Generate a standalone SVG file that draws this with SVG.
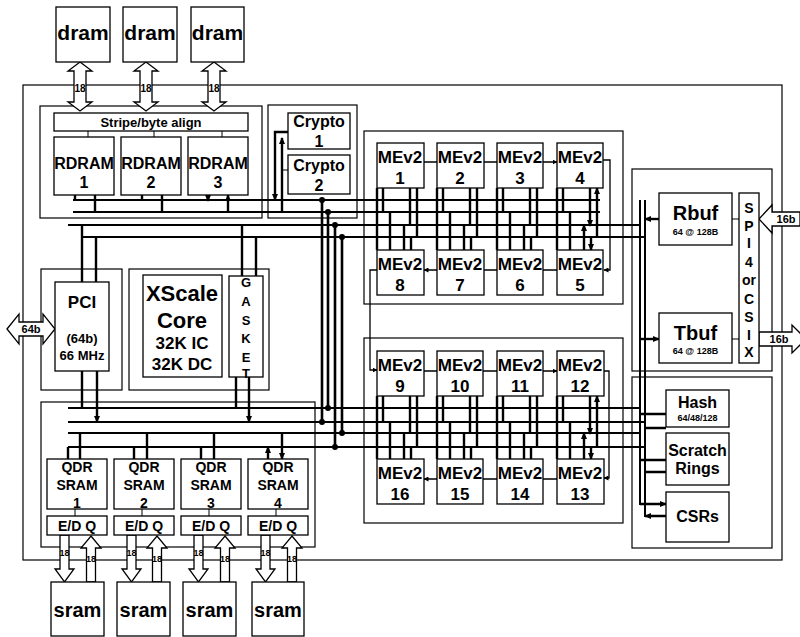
<svg xmlns="http://www.w3.org/2000/svg" width="800" height="637" viewBox="0 0 800 637">
<defs>
<marker id="ah" markerWidth="7" markerHeight="6" refX="6" refY="3" orient="auto" markerUnits="userSpaceOnUse"><path d="M0,0 L7,3 L0,6 z" fill="#000"/></marker>
<marker id="sh" markerWidth="5" markerHeight="5" refX="4.5" refY="2.5" orient="auto" markerUnits="userSpaceOnUse"><path d="M0,0 L5,2.5 L0,5 z" fill="#000"/></marker>
</defs>
<style>
.box{fill:#fff;stroke:#000;stroke-width:1.3}
.grp{fill:none;stroke:#000;stroke-width:1.2}
.bus{stroke:#000;stroke-width:2;fill:none}
.arr{stroke:#000;stroke-width:2.4;fill:none;marker-end:url(#ah)}
.ch{stroke:#000;stroke-width:1.3;fill:none;marker-end:url(#sh)}
.thin{stroke:#000;stroke-width:1;fill:none}
.vx{stroke:#000;stroke-width:2.6;fill:none}
.hol{fill:#fff;stroke:#000;stroke-width:1.3}
.t{font-family:"Liberation Sans",Arial,sans-serif;font-weight:bold;text-anchor:middle;fill:#000}
</style>
<rect width="800" height="637" fill="#fff"/>

<g id="groups">
<rect class="grp" x="23" y="85" width="759" height="475"/>
<rect class="grp" x="40" y="106" width="222" height="112"/>
<rect class="grp" x="268" y="105" width="89" height="113"/>
<rect class="grp" x="364" y="131" width="259" height="173"/>
<rect class="grp" x="364" y="338" width="259" height="185"/>
<rect class="grp" x="41" y="269" width="81" height="121"/>
<rect class="grp" x="129" y="269" width="140" height="121"/>
<rect class="grp" x="41" y="402" width="274" height="145"/>
<rect class="grp" x="632" y="169" width="140" height="202"/>
<rect class="grp" x="632" y="377" width="140" height="171"/>
</g>

<g id="connectors">
<!-- upper bus -->
<path class="bus" d="M73,200 H600 M73,212 H600 M68,225 H640 M82,237 H645"/>
<!-- lower bus -->
<path class="bus" d="M68,408 H640 M68,422 H645 M68,433 H640 M68,447 H645"/>
<!-- right verticals -->
<path class="bus" d="M640,200 V505 M645,200 V517"/>
<!-- RDRAM -->
<path class="arr" d="M75,195 V201 M142,195 V201 M208,195 V201"/>
<path class="arr" d="M95,212 V195 M162,212 V195 M228,212 V195"/>
<path class="thin" d="M88,124 V137 M154,124 V137 M222,124 V137"/>
<!-- PCI -->
<path class="arr" d="M82,225 V282 M96,282 V237 M82,408 V371 M97,371 V422"/>
<!-- Gasket -->
<path class="arr" d="M242,225 V277 M256,277 V237 M236,408 V377 M249,377 V422"/>
<!-- Crypto -->
<path class="arr" d="M288,132 H275 V200"/>
<path class="arr" d="M282,212 V138"/>
<path class="thin" d="M282,170 H288"/>
<!-- cross verticals -->
<path class="vx" d="M322,200 V422 M328,212 V408 M335,225 V447 M342,237 V433"/>
<g fill="#000">
<circle cx="322" cy="200" r="3"/><circle cx="322" cy="422" r="3"/>
<circle cx="328" cy="212" r="3"/><circle cx="328" cy="408" r="3"/>
<circle cx="335" cy="225" r="3"/><circle cx="335" cy="447" r="3"/>
<circle cx="342" cy="237" r="3"/><circle cx="342" cy="433" r="3"/>
</g>
<!-- QDR -->
<path class="arr" d="M68,459 V447 M134,459 V447 M201,459 V447 M268,459 V447"/>
<path class="arr" d="M80,433 V459 M147,433 V459 M214,433 V459 M282,433 V459"/>
<path class="thin" d="M75,507 V516 M142,507 V516 M209,507 V516 M276,507 V516"/>
<!-- ME chain upper -->
<path class="ch" d="M424,162 H437 M484,162 H497 M543,162 H557"/>
<path class="ch" d="M603,160 H610 V270 H604"/>
<path class="ch" d="M557,270 H543 M497,270 H484 M437,270 H424"/>
<path class="ch" d="M377,270 H370 V370 H377"/>
<!-- ME chain lower -->
<path class="ch" d="M424,371 H437 M483,371 H497 M543,371 H557"/>
<path class="ch" d="M604,371 H609 V478 H604"/>
<path class="ch" d="M557,479 H543 M497,479 H483 M437,479 H424"/>
<!-- ME upper group bus arrows: top row -->
<path class="arr" d="M377,188 V201 M410,188 V226 M437,188 V201 M470,188 V226 M497,188 V201 M530,188 V226 M557,188 V201 M590,188 V226"/>
<path class="arr" d="M383,212 V188 M417,237 V188 M443,212 V188 M477,237 V188 M503,212 V188 M537,237 V188 M563,212 V188 M597,237 V188"/>
<!-- bottom row -->
<path class="arr" d="M377,200 V250 M411,237 V250 M437,200 V250 M471,237 V250 M497,200 V250 M531,237 V250 M557,200 V250 M591,237 V250"/>
<path class="arr" d="M390,250 V212 M404,250 V225 M450,250 V212 M464,250 V225 M510,250 V212 M524,250 V225 M570,250 V212 M584,250 V225"/>
<!-- ME lower group: top row -->
<path class="arr" d="M377,396 V409 M410,396 V434 M437,396 V409 M470,396 V434 M497,396 V409 M530,396 V434 M557,396 V409 M590,396 V434"/>
<path class="arr" d="M383,422 V396 M417,447 V396 M443,422 V396 M477,447 V396 M503,422 V396 M537,447 V396 M563,422 V396 M597,447 V396"/>
<!-- bottom row -->
<path class="arr" d="M377,408 V459 M411,447 V459 M437,408 V459 M471,447 V459 M497,408 V459 M531,447 V459 M557,408 V459 M591,447 V459"/>
<path class="arr" d="M390,459 V422 M404,459 V433 M450,459 V422 M464,459 V433 M510,459 V422 M524,459 V433 M570,459 V422 M584,459 V433"/>
<!-- Rbuf/Tbuf -->
<path class="arr" d="M659,219 H645"/>
<path class="arr" d="M640,339 H659"/>
<path class="thin" d="M732,219 H739 M732,339 H739"/>
<!-- Hash / Scratch / CSRs -->
<path class="arr" d="M640,414 H666 M640,460 H666 M640,504 H666"/>
<path class="arr" d="M666,428 H645 M666,472 H645 M666,516 H645"/>
<!-- hollow arrows: dram -->
<polygon class="hol" points="80,62 92,71 86,71 86,102 92,102 80,111 68,102 74,102 74,71 68,71"/>
<polygon class="hol" points="146,62 158,71 152,71 152,102 158,102 146,111 134,102 140,102 140,71 134,71"/>
<polygon class="hol" points="214,62 226,71 220,71 220,102 226,102 214,111 202,102 208,102 208,71 202,71"/>
<!-- hollow arrows: sram down -->
<polygon class="hol" points="60,535 69,535 69,569 74,569 64.5,582 55,569 60,569"/>
<polygon class="hol" points="127,535 136,535 136,569 141,569 131.5,582 122,569 127,569"/>
<polygon class="hol" points="194,535 203,535 203,569 208,569 198.5,582 189,569 194,569"/>
<polygon class="hol" points="261,535 270,535 270,569 275,569 265.5,582 256,569 261,569"/>
<!-- hollow arrows: sram up -->
<polygon class="hol" points="91,536 101,548 95.5,548 95.5,582 86.5,582 86.5,548 81,548"/>
<polygon class="hol" points="157,536 167,548 161.5,548 161.5,582 152.5,582 152.5,548 147,548"/>
<polygon class="hol" points="225,536 235,548 229.5,548 229.5,582 220.5,582 220.5,548 215,548"/>
<polygon class="hol" points="292,536 302,548 296.5,548 296.5,582 287.5,582 287.5,548 282,548"/>
<!-- 64b -->
<polygon class="hol" points="7,329 19,314 19,322 43,322 43,314 55,329 43,344 43,336 19,336 19,344"/>
<!-- 16b in -->
<polygon class="hol" points="759,219 772,205 772,212 800,212 800,226 772,226 772,233"/>
<!-- 16b out -->
<polygon class="hol" points="759,332 792,332 792,325 806,339 792,353 792,346 759,346"/>
<g class="t" font-size="10">
<text x="80" y="92">18</text><text x="146" y="92">18</text><text x="214" y="92">18</text>
</g>
<g class="t" font-size="9">
<text x="64.5" y="556">18</text><text x="91" y="562">18</text>
<text x="131.5" y="556">18</text><text x="157" y="562">18</text>
<text x="198.5" y="556">18</text><text x="225" y="562">18</text>
<text x="265.5" y="556">18</text><text x="292" y="562">18</text>
</g>
<text class="t" x="31" y="333" font-size="11">64b</text>
<text class="t" x="786" y="223" font-size="11">16b</text>
<text class="t" x="779" y="343" font-size="11">16b</text>
</g>

<g id="dram1"><rect class="box" x="56" y="7" width="54" height="55"/><text class="t" x="83" y="40" font-size="21">dram</text></g>
<g id="dram2"><rect class="box" x="123" y="7" width="54" height="55"/><text class="t" x="150" y="40" font-size="21">dram</text></g>
<g id="dram3"><rect class="box" x="191" y="7" width="53" height="55"/><text class="t" x="217.5" y="40" font-size="21">dram</text></g>

<g id="stripe"><rect class="box" x="54" y="113" width="194" height="18"/><text class="t" x="151" y="126.5" font-size="13">Stripe/byte align</text></g>
<g id="rdram1"><rect class="box" x="54" y="137" width="60" height="58"/><text class="t" x="84" y="169" font-size="16">RDRAM</text><text class="t" x="84" y="188" font-size="16">1</text></g>
<g id="rdram2"><rect class="box" x="121" y="137" width="60" height="58"/><text class="t" x="151" y="169" font-size="16">RDRAM</text><text class="t" x="151" y="188" font-size="16">2</text></g>
<g id="rdram3"><rect class="box" x="188" y="137" width="60" height="58"/><text class="t" x="218" y="169" font-size="16">RDRAM</text><text class="t" x="218" y="188" font-size="16">3</text></g>

<g id="crypto1"><rect class="box" x="288" y="113" width="62" height="36"/><text class="t" x="319" y="126.5" font-size="16">Crypto</text><text class="t" x="319" y="147" font-size="16">1</text></g>
<g id="crypto2"><rect class="box" x="288" y="155" width="62" height="39"/><text class="t" x="319" y="170.5" font-size="16">Crypto</text><text class="t" x="319" y="190.5" font-size="16">2</text></g>

<g id="me1"><rect class="box" x="377" y="143" width="47" height="45"/><text class="t" x="400" y="163" font-size="17">MEv2</text><text class="t" x="400" y="184" font-size="17">1</text></g>
<g id="me2"><rect class="box" x="437" y="143" width="47" height="45"/><text class="t" x="460" y="163" font-size="17">MEv2</text><text class="t" x="460" y="184" font-size="17">2</text></g>
<g id="me3"><rect class="box" x="497" y="143" width="46" height="45"/><text class="t" x="520" y="163" font-size="17">MEv2</text><text class="t" x="520" y="184" font-size="17">3</text></g>
<g id="me4"><rect class="box" x="557" y="143" width="46" height="45"/><text class="t" x="580" y="163" font-size="17">MEv2</text><text class="t" x="580" y="184" font-size="17">4</text></g>
<g id="me8"><rect class="box" x="377" y="250" width="47" height="45"/><text class="t" x="400" y="270" font-size="17">MEv2</text><text class="t" x="400" y="291" font-size="17">8</text></g>
<g id="me7"><rect class="box" x="437" y="250" width="47" height="45"/><text class="t" x="460" y="270" font-size="17">MEv2</text><text class="t" x="460" y="291" font-size="17">7</text></g>
<g id="me6"><rect class="box" x="497" y="250" width="46" height="45"/><text class="t" x="520" y="270" font-size="17">MEv2</text><text class="t" x="520" y="291" font-size="17">6</text></g>
<g id="me5"><rect class="box" x="557" y="250" width="46" height="45"/><text class="t" x="580" y="270" font-size="17">MEv2</text><text class="t" x="580" y="291" font-size="17">5</text></g>

<g id="me9"><rect class="box" x="377" y="351" width="47" height="45"/><text class="t" x="400" y="371" font-size="17">MEv2</text><text class="t" x="400" y="392" font-size="17">9</text></g>
<g id="me10"><rect class="box" x="437" y="351" width="46" height="45"/><text class="t" x="460" y="371" font-size="17">MEv2</text><text class="t" x="460" y="392" font-size="17">10</text></g>
<g id="me11"><rect class="box" x="497" y="351" width="46" height="45"/><text class="t" x="520" y="371" font-size="17">MEv2</text><text class="t" x="520" y="392" font-size="17">11</text></g>
<g id="me12"><rect class="box" x="557" y="351" width="47" height="45"/><text class="t" x="580" y="371" font-size="17">MEv2</text><text class="t" x="580" y="392" font-size="17">12</text></g>
<g id="me16"><rect class="box" x="377" y="459" width="47" height="45"/><text class="t" x="400" y="479" font-size="17">MEv2</text><text class="t" x="400" y="500" font-size="17">16</text></g>
<g id="me15"><rect class="box" x="437" y="459" width="46" height="45"/><text class="t" x="460" y="479" font-size="17">MEv2</text><text class="t" x="460" y="500" font-size="17">15</text></g>
<g id="me14"><rect class="box" x="497" y="459" width="46" height="45"/><text class="t" x="520" y="479" font-size="17">MEv2</text><text class="t" x="520" y="500" font-size="17">14</text></g>
<g id="me13"><rect class="box" x="557" y="459" width="47" height="45"/><text class="t" x="580" y="479" font-size="17">MEv2</text><text class="t" x="580" y="500" font-size="17">13</text></g>

<g id="pci"><rect class="box" x="55" y="282" width="54" height="89"/><text class="t" x="82" y="308" font-size="17">PCI</text><text class="t" x="82" y="343" font-size="13">(64b)</text><text class="t" x="82" y="360" font-size="13">66 MHz</text></g>
<g id="xscale"><rect class="box" x="143" y="275" width="79" height="102"/><text class="t" x="182" y="301" font-size="22">XScale</text><text class="t" x="182" y="328" font-size="22">Core</text><text class="t" x="182" y="349" font-size="17">32K IC</text><text class="t" x="182" y="370" font-size="17">32K DC</text></g>
<g id="gasket"><rect class="box" x="229" y="276" width="34" height="101"/>
<g class="t" font-size="13"><text x="246" y="287">G</text><text x="246" y="306">A</text><text x="246" y="325">S</text><text x="246" y="343">K</text><text x="246" y="362">E</text><text x="246" y="378">T</text></g></g>

<g id="qdr1"><rect class="box" x="47" y="459" width="60" height="50"/><text class="t" x="77" y="472" font-size="14">QDR</text><text class="t" x="77" y="490" font-size="14">SRAM</text><text class="t" x="77" y="508" font-size="14">1</text></g>
<g id="qdr2"><rect class="box" x="114" y="459" width="60" height="50"/><text class="t" x="144" y="472" font-size="14">QDR</text><text class="t" x="144" y="490" font-size="14">SRAM</text><text class="t" x="144" y="508" font-size="14">2</text></g>
<g id="qdr3"><rect class="box" x="181" y="459" width="60" height="50"/><text class="t" x="211" y="472" font-size="14">QDR</text><text class="t" x="211" y="490" font-size="14">SRAM</text><text class="t" x="211" y="508" font-size="14">3</text></g>
<g id="qdr4"><rect class="box" x="248" y="459" width="60" height="50"/><text class="t" x="278" y="472" font-size="14">QDR</text><text class="t" x="278" y="490" font-size="14">SRAM</text><text class="t" x="278" y="508" font-size="14">4</text></g>
<g id="edq1"><rect class="box" x="47" y="516" width="60" height="19"/><text class="t" x="77" y="530.5" font-size="14">E/D Q</text></g>
<g id="edq2"><rect class="box" x="114" y="516" width="60" height="19"/><text class="t" x="144" y="530.5" font-size="14">E/D Q</text></g>
<g id="edq3"><rect class="box" x="181" y="516" width="60" height="19"/><text class="t" x="211" y="530.5" font-size="14">E/D Q</text></g>
<g id="edq4"><rect class="box" x="248" y="516" width="60" height="19"/><text class="t" x="278" y="530.5" font-size="14">E/D Q</text></g>

<g id="sram1"><rect class="box" x="51" y="582" width="53" height="54"/><text class="t" x="77.5" y="617" font-size="20">sram</text></g>
<g id="sram2"><rect class="box" x="117" y="582" width="53" height="54"/><text class="t" x="143.5" y="617" font-size="20">sram</text></g>
<g id="sram3"><rect class="box" x="183" y="582" width="53" height="54"/><text class="t" x="209.5" y="617" font-size="20">sram</text></g>
<g id="sram4"><rect class="box" x="252" y="582" width="52" height="54"/><text class="t" x="278" y="617" font-size="20">sram</text></g>

<g id="rbuf"><rect class="box" x="659" y="193" width="73" height="52"/><text class="t" x="695.5" y="220" font-size="20">Rbuf</text><text class="t" x="695.5" y="235" font-size="9">64 @ 128B</text></g>
<g id="tbuf"><rect class="box" x="659" y="313" width="73" height="50"/><text class="t" x="695.5" y="340" font-size="20">Tbuf</text><text class="t" x="695.5" y="354" font-size="9">64 @ 128B</text></g>
<g id="spi4"><rect class="box" x="739" y="193" width="20" height="170"/>
<g class="t" font-size="14"><text x="749" y="213">S</text><text x="749" y="231">P</text><text x="749" y="248">I</text><text x="749" y="267">4</text><text x="749" y="285">or</text><text x="749" y="304">C</text><text x="749" y="322">S</text><text x="749" y="340">I</text><text x="749" y="357">X</text></g></g>

<g id="hash"><rect class="box" x="666" y="390" width="63" height="37"/><text class="t" x="697.5" y="408" font-size="16">Hash</text><text class="t" x="697.5" y="421" font-size="9">64/48/128</text></g>
<g id="scratch"><rect class="box" x="666" y="433" width="63" height="52"/><text class="t" x="697.5" y="456" font-size="16">Scratch</text><text class="t" x="697.5" y="474" font-size="16">Rings</text></g>
<g id="csrs"><rect class="box" x="666" y="492" width="63" height="50"/><text class="t" x="697.5" y="522" font-size="16">CSRs</text></g>
</svg>
